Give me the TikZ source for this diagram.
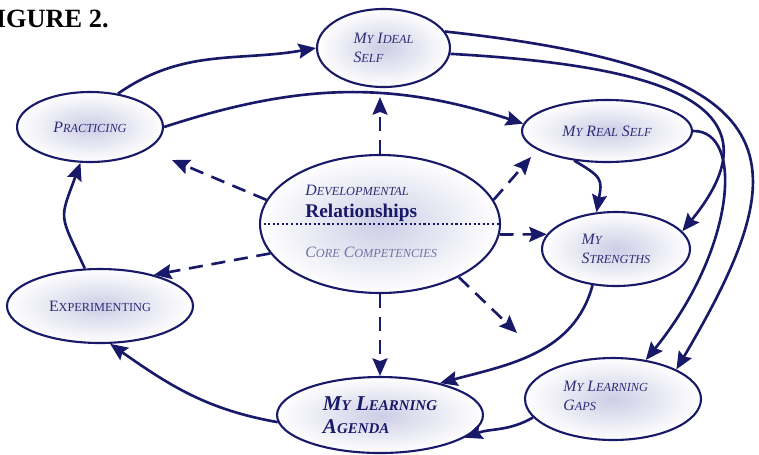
\documentclass[tikz,border=0pt]{standalone}
\usepackage{fontspec}
\setmainfont{Liberation Serif}
\usetikzlibrary{shapes.geometric, arrows.meta}

\definecolor{navy}{RGB}{25,25,105}
\definecolor{ink}{RGB}{45,45,120}
\definecolor{faded}{RGB}{115,115,165}
\definecolor{haze}{RGB}{205,205,230}

\newcommand\lowc[1]{{\fontsize{7}{8}\selectfont #1}}
\newcommand\lowC[1]{{\fontsize{8.5}{9}\selectfont #1}}

\tikzset{
    bubble/.style = {ellipse, draw = navy, line width = 1.2pt, inner color = haze, outer color = white, inner sep = 0pt, align = left, text = ink, font = \fontsize{9}{11}\selectfont\itshape},
    tag/.style = {inner sep = 0pt, anchor = west, align = left, text = ink, font = \fontsize{9}{11}\selectfont\itshape},
    flow/.style = {navy, line width = 1.5pt, -{Stealth[length = 10pt, width = 8.5pt, inset = 1.5pt]}},
    reach/.style = {flow, dash pattern = on 8pt off 5pt},
}

\begin{document}
\begin{tikzpicture}[x = 0.02cm, y = -0.02cm]
    \useasboundingbox (0, 0) rectangle (759, 454);
    \clip (0, 0) rectangle (759, 454);

    \node[font = \fontsize{15}{15}\selectfont\bfseries, anchor = base east, inner sep = 0pt] (title) at (109, 27) {FIGURE 2.};

    \node[bubble, minimum width = 2.66cm, minimum height = 1.56cm] (ideal) at (383.5, 48) {M\lowc{Y} I\lowc{DEAL}\\S\lowc{ELF}};
    \node[bubble, minimum width = 2.92cm, minimum height = 1.4cm] (practicing) at (90, 127) {P\lowc{RACTICING}};
    \node[bubble, minimum width = 3.4cm, minimum height = 1.24cm] (real) at (607, 131) {M\lowc{Y} R\lowc{EAL} S\lowc{ELF}};
    \node[bubble, minimum width = 4.8cm, minimum height = 2.76cm] (hub) at (380, 224) {};
    \node[bubble, minimum width = 2.96cm, minimum height = 1.48cm] (strengths) at (616, 249) {M\lowc{Y}\\S\lowc{TRENGTHS}};
    \node[bubble, minimum width = 3.72cm, minimum height = 1.48cm, font = \fontsize{9}{11}\selectfont] (experimenting) at (100, 306) {E\lowc{XPERIMENTING}};
    \node[bubble, minimum width = 4.12cm, minimum height = 1.52cm, text = navy, font = \fontsize{12}{13}\selectfont\bfseries\itshape] (agenda) at (380, 415) {M\lowC{Y} L\lowC{EARNING}\\A\lowC{GENDA}};
    \node[bubble, minimum width = 3.52cm, minimum height = 1.64cm] (gaps) at (613, 399) {};

    \node[tag] (gapstext) at (563, 396) {M\lowc{Y} L\lowc{EARNING}\\G\lowc{APS}};
    \node[tag] (devtext) at (305, 190) {D\lowc{EVELOPMENTAL}};
    \node[tag, text = navy, font = \fontsize{11}{12}\selectfont\bfseries] (reltext) at (305, 213) {Relationships};
    \node[tag, text = faded] (coretext) at (305, 252) {C\lowc{ORE} C\lowc{OMPETENCIES}};
    \draw[navy, line width = 1.2pt, dash pattern = on 1.2pt off 1.4pt] (hub.west) -- (hub.east);

    \draw[flow] (practicing.50) to[out = 35, in = 190] (ideal.west);
    \draw[flow] (practicing.east) to[out = 18, in = 162] (real.175);
    \draw[flow] (ideal.15) .. controls (800, 70) and (800, 160) .. (gaps.25);
    \draw[flow] (ideal.-5) .. controls (650, 65) and (790, 100) .. (strengths.15);
    \draw[flow] (real.east) .. controls (745, 130) and (735, 250) .. (gaps.50);
    \draw[flow] (real.222) to[out = -30, in = 80, looseness = 1.5] (strengths.118);
    \draw[flow] (strengths.237) to[out = -105, in = 15] (agenda.28);
    \draw[flow] (gaps.193) to[out = -150, in = 20] (agenda.-15);
    \draw[flow] (agenda.184) to[out = 170, in = -35] (experimenting.-75);
    \draw[flow] (experimenting.112) to[out = 115, in = -110, looseness = 1.5] (practicing.-105);

    \coordinate (upleft) at (172, 160);
    \coordinate (upright) at (531, 157);
    \coordinate (downright) at (517, 333);

    \draw[reach, shorten >= 0.18cm] (hub.north) -- (hub.north |- ideal.south);
    \draw[reach] (hub.168) -- (upleft);
    \draw[reach] (hub.12) -- (upright);
    \draw[reach] (hub.-5) -- (strengths.168);
    \draw[reach] (hub.195) -- (experimenting.30);
    \draw[reach] (hub.-34) -- (downright);
    \draw[reach] (hub.south) -- (agenda.north);
\end{tikzpicture}
\end{document}
